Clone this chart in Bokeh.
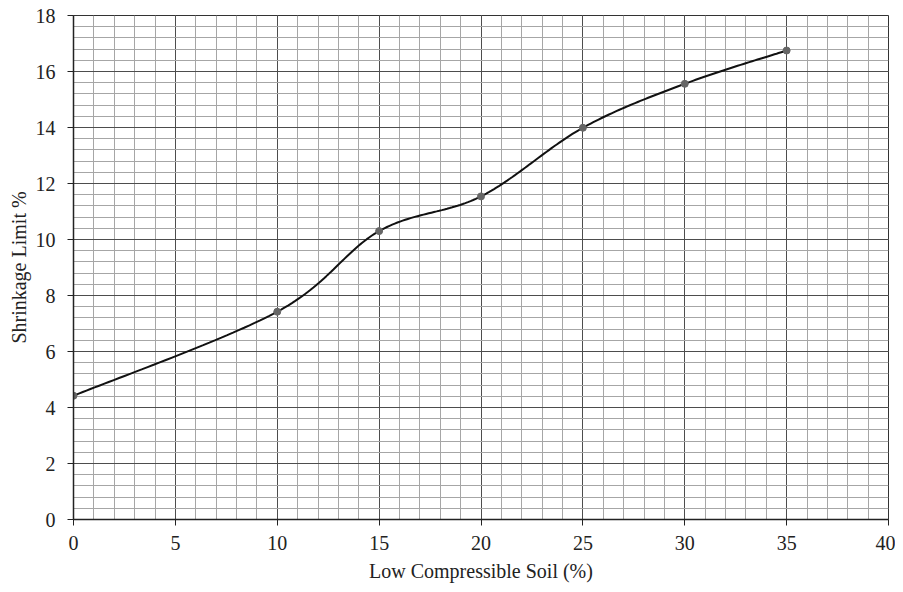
import numpy as np
from bokeh.plotting import figure
from bokeh.models import Range1d, SingleIntervalTicker
from bokeh.embed import file_html
from bokeh.resources import INLINE

soil_pct = [0, 10, 15, 20, 25, 30, 35]
shrinkage_limit = [4.42, 7.42, 10.30, 11.54, 13.99, 15.56, 16.75]
x_ticks_interval = 5
y_ticks_interval = 2


def smooth_curve(xs, ys, n=40):
    # Catmull-Rom style Bezier smoothing (like a spreadsheet's smoothed line)
    xs = np.asarray(xs, float)
    ys = np.asarray(ys, float)
    pts = np.column_stack([xs, ys])
    out = []
    for i in range(len(pts) - 1):
        p0 = pts[i - 1] if i > 0 else pts[i]
        p1 = pts[i]
        p2 = pts[i + 1]
        p3 = pts[i + 2] if i + 2 < len(pts) else pts[i + 1]
        c1 = p1 + (p2 - p0) / 6.0
        c2 = p2 - (p3 - p1) / 6.0
        t = np.linspace(0, 1, n)[:, None]
        seg = ((1 - t) ** 3) * p1 + 3 * ((1 - t) ** 2) * t * c1 + 3 * (1 - t) * t ** 2 * c2 + t ** 3 * p2
        out.append(seg if i == 0 else seg[1:])
    arr = np.vstack(out)
    return arr[:, 0], arr[:, 1]


p = figure(width=895, height=584, output_backend="svg", toolbar_location=None,
           x_range=Range1d(0, 40), y_range=Range1d(0, 18),
           min_border_left=73, min_border_right=7, min_border_top=15, min_border_bottom=64)

p.outline_line_color = "#333333"
p.outline_line_width = 1
p.background_fill_color = "white"
p.border_fill_color = "white"

xt = SingleIntervalTicker(interval=x_ticks_interval, num_minor_ticks=5)
yt = SingleIntervalTicker(interval=y_ticks_interval, num_minor_ticks=5)
p.xaxis.ticker = xt
p.yaxis.ticker = yt
p.xgrid.ticker = xt
p.ygrid.ticker = yt

for g in (p.xgrid, p.ygrid):
    g.grid_line_color = "#4d4d4d"
    g.grid_line_width = 1
    g.grid_line_alpha = 1
    g.minor_grid_line_color = "#a6a6a6"
    g.minor_grid_line_width = 1

for ax in (p.xaxis, p.yaxis):
    ax.axis_line_color = "#222222"
    ax.axis_line_width = 1.5
    ax.major_tick_line_color = "#222222"
    ax.major_tick_in = 0
    ax.major_tick_out = 6
    ax.minor_tick_line_color = None
    ax.major_label_text_font = "Liberation Serif"
    ax.major_label_text_font_size = "20px"
    ax.major_label_text_color = "#222222"
    ax.axis_label_text_font = "Liberation Serif"
    ax.axis_label_text_font_size = "20px"
    ax.axis_label_text_font_style = "normal"
    ax.axis_label_text_color = "#222222"

p.xaxis.axis_label = "Low Compressible Soil (%)"
p.yaxis.axis_label = "Shrinkage Limit %"
p.xaxis.major_label_standoff = 10
p.xaxis.axis_label_standoff = 7
p.yaxis.major_label_standoff = 12
p.yaxis.axis_label_standoff = 3

cx, cy = smooth_curve(soil_pct, shrinkage_limit)
p.line(cx, cy, line_color="#111111", line_width=2)
p.scatter(soil_pct, shrinkage_limit, size=7, fill_color="#666666", line_color="#666666")

open("out.html", "w").write(file_html(p, INLINE))
